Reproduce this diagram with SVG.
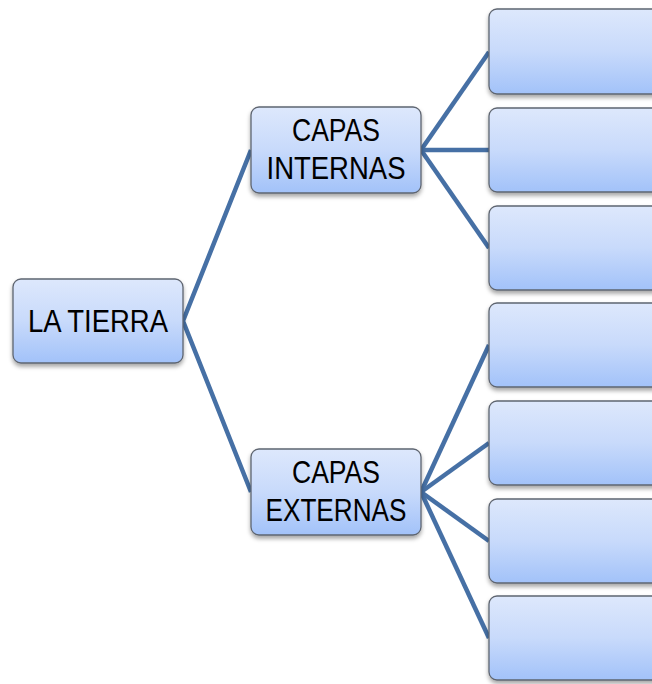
<svg xmlns="http://www.w3.org/2000/svg" width="652" height="684" viewBox="0 0 652 684">
<defs>
<linearGradient id="g" x1="0" y1="0" x2="0" y2="1">
<stop offset="0" stop-color="#DDE8FC"/>
<stop offset="0.5" stop-color="#C8DAFB"/>
<stop offset="1" stop-color="#A2C2F9"/>
</linearGradient>
<filter id="sh" x="-10%" y="-10%" width="120%" height="130%">
<feDropShadow dx="0" dy="3" stdDeviation="2" flood-color="#000" flood-opacity="0.35"/>
</filter>
</defs>
<style>
.box{fill:url(#g);stroke:#5E6570;stroke-width:1.3;filter:url(#sh)}
.lbl{font-family:"Liberation Sans",Arial,sans-serif;font-size:31px;fill:#000;text-anchor:middle}
.c{stroke:#4670A5;stroke-width:4.5;fill:none;stroke-linejoin:round}
</style>
<g id="connectors">
<polyline class="c" points="251,150 183,321 251,492"/>
<line class="c" x1="421" y1="150" x2="489" y2="52"/>
<line class="c" x1="421" y1="150" x2="489" y2="150"/>
<line class="c" x1="421" y1="150" x2="489" y2="248"/>
<line class="c" x1="421" y1="492" x2="489" y2="345"/>
<line class="c" x1="421" y1="492" x2="489" y2="443"/>
<line class="c" x1="421" y1="492" x2="489" y2="541"/>
<line class="c" x1="421" y1="492" x2="489" y2="638"/>
</g>
<g id="la-tierra">
<rect class="box" x="13" y="279" width="170" height="84" rx="8"/>
<text class="lbl" x="98" y="332" textLength="140" lengthAdjust="spacingAndGlyphs">LA TIERRA</text>
</g>
<g id="capas-internas">
<rect class="box" x="251" y="107" width="170" height="86" rx="8"/>
<text class="lbl" x="336" y="141" textLength="88" lengthAdjust="spacingAndGlyphs">CAPAS</text>
<text class="lbl" x="336" y="179" textLength="139" lengthAdjust="spacingAndGlyphs">INTERNAS</text>
</g>
<g id="capas-externas">
<rect class="box" x="251" y="449" width="170" height="86" rx="8"/>
<text class="lbl" x="336" y="483" textLength="88" lengthAdjust="spacingAndGlyphs">CAPAS</text>
<text class="lbl" x="336" y="521" textLength="141" lengthAdjust="spacingAndGlyphs">EXTERNAS</text>
</g>
<g id="int-1"><rect class="box" x="489" y="9" width="180" height="85" rx="8"/></g>
<g id="int-2"><rect class="box" x="489" y="108" width="180" height="84" rx="8"/></g>
<g id="int-3"><rect class="box" x="489" y="206" width="180" height="84" rx="8"/></g>
<g id="ext-1"><rect class="box" x="489" y="303" width="180" height="84" rx="8"/></g>
<g id="ext-2"><rect class="box" x="489" y="401" width="180" height="84" rx="8"/></g>
<g id="ext-3"><rect class="box" x="489" y="499" width="180" height="84" rx="8"/></g>
<g id="ext-4"><rect class="box" x="489" y="596" width="180" height="84" rx="8"/></g>
</svg>
